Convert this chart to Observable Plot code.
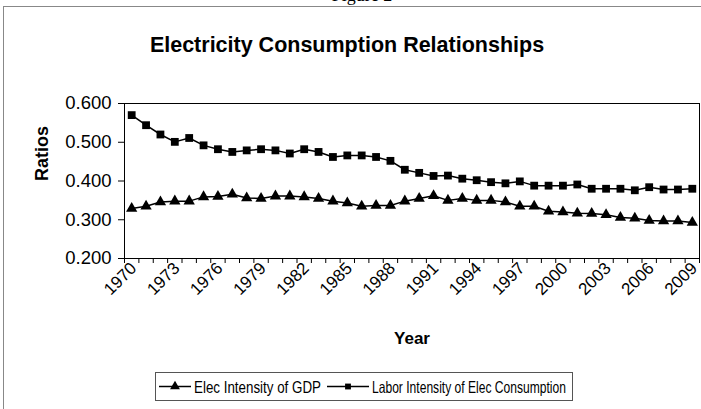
<!DOCTYPE html>
<html><head><meta charset="utf-8">
<script src="https://cdn.jsdelivr.net/npm/d3@7"></script>
<script src="https://cdn.jsdelivr.net/npm/@observablehq/plot@0.6"></script>
<style>
body{margin:0;background:#fff;}
#wrap{position:relative;width:701px;height:409px;overflow:hidden;background:#fff;font-family:"Liberation Sans",Arial,sans-serif;color:#000;}
#fig{position:absolute;left:0;width:724px;top:-14px;text-align:center;font:18px "Liberation Serif",serif;line-height:18px;}
#bl{position:absolute;left:3px;top:6px;width:1px;height:420px;background:#888;}
#bt{position:absolute;left:3px;top:6px;width:720px;height:1px;background:#888;}
#title{position:absolute;left:0;width:694px;top:35px;text-align:center;font-weight:bold;font-size:21.5px;line-height:21.5px;}
#chart{position:absolute;left:0;top:60px;}
#legend{position:absolute;left:0;top:360px;}
</style></head><body>
<div id="wrap">
  <div id="fig">Figure 2</div>
  <div id="bl"></div><div id="bt"></div>
  <div id="title">Electricity Consumption Relationships</div>
  <div id="chart"></div>
  <div id="legend"></div>
</div>
<script>
const years = [1970,1971,1972,1973,1974,1975,1976,1977,1978,1979,1980,1981,1982,1983,1984,1985,1986,1987,1988,1989,
               1990,1991,1992,1993,1994,1995,1996,1997,1998,1999,2000,2001,2002,2003,2004,2005,2006,2007,2008,2009];
const elecIntensityGDP = [0.329,0.335,0.346,0.348,0.348,0.359,0.360,0.366,0.356,0.355,0.361,0.361,0.359,0.355,0.348,0.343,0.335,0.337,0.337,0.348,
                          0.355,0.362,0.350,0.355,0.350,0.350,0.346,0.335,0.335,0.322,0.320,0.317,0.316,0.313,0.306,0.304,0.298,0.297,0.297,0.293];
const laborIntensityElec = [0.570,0.544,0.520,0.501,0.511,0.492,0.482,0.475,0.479,0.482,0.479,0.471,0.482,0.475,0.462,0.466,0.466,0.462,0.452,0.429,
                            0.421,0.413,0.414,0.406,0.402,0.397,0.394,0.399,0.388,0.388,0.388,0.391,0.380,0.380,0.380,0.376,0.384,0.378,0.378,0.380];
const yTicks = [0.2,0.3,0.4,0.5,0.6];
const xLabelYears = [1970,1973,1976,1979,1982,1985,1988,1991,1994,1997,2000,2003,2006,2009];
const seriesNames = ["Elec Intensity of GDP","Labor Intensity of Elec Consumption"];
const yLabel = "Ratios";
const xLabel = "Year";

const gdp = years.map((yr,i)=>({year:yr, value:elecIntensityGDP[i]}));
const labor = years.map((yr,i)=>({year:yr, value:laborIntensityElec[i]}));
const boundaries = years.map(y=>y-0.5).concat([years[years.length-1]+0.5]);

const plot = Plot.plot({
  width:701, height:300,
  marginLeft:124, marginRight:2, marginTop:43, marginBottom:102,
  style:{fontFamily:'"Liberation Sans",Arial,sans-serif', background:"transparent", overflow:"visible"},
  x:{type:"linear", domain:[years[0]-0.5, years[years.length-1]+0.5]},
  y:{domain:[0.2,0.6]},
  marks:[
    Plot.frame({stroke:"#000", strokeWidth:1}),
    Plot.axisY({ticks:yTicks, tickFormat:d3.format(".3f"), tickSize:6, tickPadding:7, fontSize:18.5, label:null, stroke:"#000"}),
    Plot.axisX({ticks:boundaries, tickSize:5, tickFormat:()=>"", label:null}),
    Plot.axisX({ticks:xLabelYears, tickSize:0, tickPadding:7, tickRotate:-45, fontSize:17, label:null, tickFormat:d=>String(d), dx:2}),
    Plot.lineY(gdp, {x:"year", y:"value", stroke:"#000", strokeWidth:1.5}),
    Plot.lineY(labor, {x:"year", y:"value", stroke:"#000", strokeWidth:1.5}),
    Plot.dot(gdp, {x:"year", y:"value", symbol:"triangle", fill:"#000", r:4.2}),
    Plot.dot(labor, {x:"year", y:"value", symbol:"square", fill:"#000", r:4.4}),
    Plot.text([yLabel], {frameAnchor:"left", dx:-82, rotate:-90, text:d=>d, fontWeight:"bold", fontSize:18}),
    Plot.text([xLabel], {frameAnchor:"bottom", dy:85, text:d=>d, fontWeight:"bold", fontSize:17})
  ]
});
document.getElementById("chart").appendChild(plot);

// legend (svg, origin at page y=360)
const L = d3.create("svg").attr("width",701).attr("height",49).style("font-family",'"Liberation Sans",Arial,sans-serif');
L.append("rect").attr("x",155.5).attr("y",12.5).attr("width",417).attr("height",28).attr("fill","none").attr("stroke","#555").attr("stroke-width",1);
const items = [
  {sym:d3.symbolTriangle, size:42, x0:159, x1:191, tx:194, tw:127, name:seriesNames[0]},
  {sym:d3.symbolSquare, size:34, x0:327, x1:369, tx:372, tw:194, name:seriesNames[1]}
];
items.forEach(it=>{
  L.append("line").attr("x1",it.x0).attr("x2",it.x1).attr("y1",26.5).attr("y2",26.5).attr("stroke","#000").attr("stroke-width",1.5);
  L.append("path").attr("transform",`translate(${(it.x0+it.x1)/2},26.5)`).attr("d",d3.symbol(it.sym,it.size)()).attr("fill","#000");
  L.append("text").attr("x",it.tx).attr("y",32.5).attr("font-size",16.5).attr("textLength",it.tw).attr("lengthAdjust","spacingAndGlyphs").text(it.name);
});
document.getElementById("legend").appendChild(L.node());
</script>
</body></html>
